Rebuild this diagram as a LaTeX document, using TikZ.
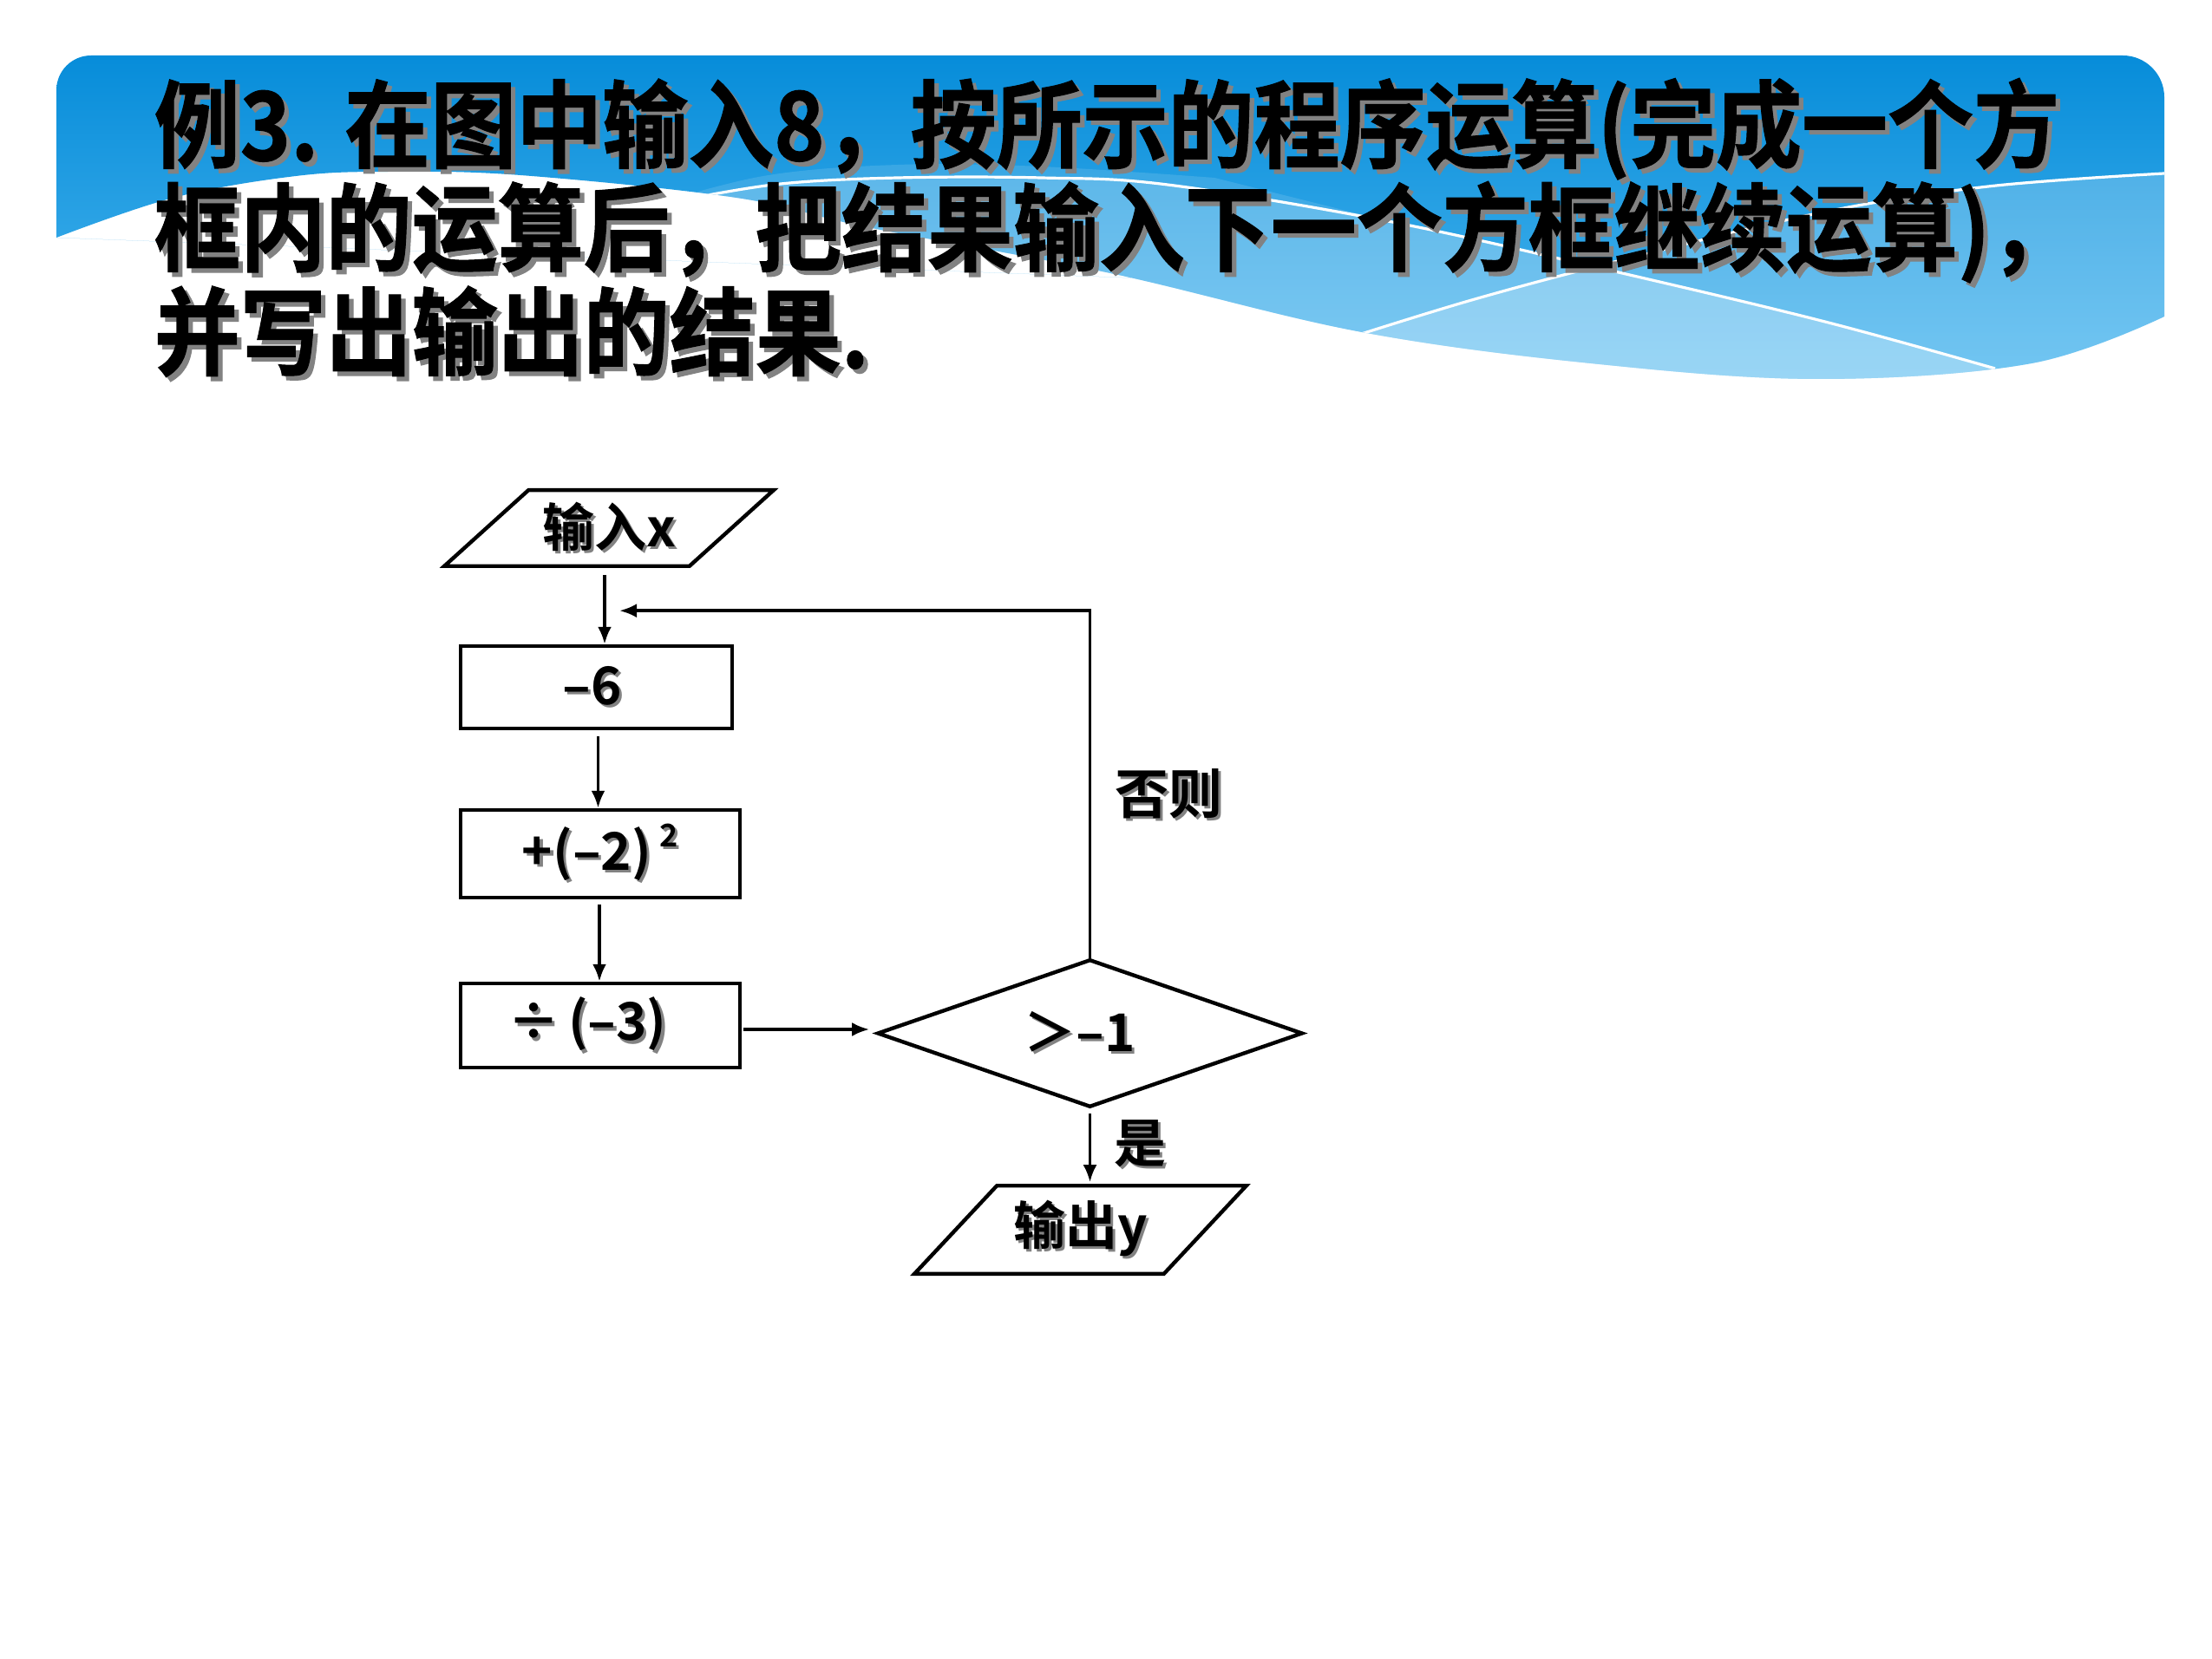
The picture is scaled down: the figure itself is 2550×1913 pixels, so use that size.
\documentclass[tikz,border=0pt]{standalone}
\usepackage{fontspec}
\newfontfamily\cjk{Noto Sans CJK SC}[BoldFont={Noto Sans CJK SC Bold}]
\newfontfamily\cjktitle{Noto Sans CJK SC Bold}[FakeStretch=0.9,FakeBold=1]
\usetikzlibrary{arrows.meta,calc}
\definecolor{shgray}{RGB}{130,130,130}
\definecolor{bandtop}{RGB}{6,140,217}
\definecolor{bandbot}{RGB}{78,184,240}
\newcommand\shd[2][0.8pt]{\makebox[0pt][l]{\hspace*{#1}\raisebox{-#1}{\textcolor{shgray}{#2}}}#2}
\tikzset{
  titletext/.style={font=\cjktitle\fontsize{27.5pt}{30pt}\selectfont, inner sep=0pt, anchor=base west},
  lbl/.style={font=\cjk\bfseries\fontsize{15pt}{18pt}\selectfont, inner sep=0pt},
  procbox/.style={draw, line width=1.1pt, lbl},
  iobox/.style={lbl},
  arr/.style={line width=0.9pt, -{Latex[length=5pt,width=4pt]}},
  wline/.style={white, line width=0.8pt},
}
\begin{document}
\begin{tikzpicture}[x=0.25pt,y=-0.25pt]
\useasboundingbox (0,0) rectangle (2550,1913);
\fill[white] (0,0) rectangle (2550,1913);
% ---------- header band ----------
\begin{scope}
\clip (65,274) -- (65,104) arc[start angle=180,end angle=270,radius=40] -- (2447,64)
  arc[start angle=270,end angle=360,radius=48] -- (2495,365)
  plot[smooth,tension=0.6] coordinates {(2495,365) (2342,419) (2100,437) (1844,420) (1570,383) (1280,315) (1000,262) (849,228) (600,202) (450,198) (341,203) (200,228) (65,274)} -- cycle;
\shade[top color=bandtop, bottom color=bandbot] (60,60) rectangle (2500,450);
% light band above line A
\fill[white, opacity=0.12] plot[smooth,tension=0.6] coordinates {(740,240) (880,203) (1035,190) (1200,192) (1400,205)} -- (1600,255)
  -- plot[smooth,tension=0.6] coordinates {(1600,255) (1346,213) (1200,205) (1035,205) (900,212) (790,230)} -- cycle;
% ribbon below line A
\fill[white, opacity=0.28] plot[smooth,tension=0.6] coordinates {(790,230) (900,212) (1035,205) (1200,205) (1346,213) (1600,255) (1844,309) (2100,370) (2300,425)} -- (2300,600) -- (790,600) -- cycle;
% ribbon below line B
\fill[white, opacity=0.22] plot[smooth,tension=0.6] coordinates {(1560,388) (1700,345) (1869,300) (2100,245) (2292,215) (2495,200)} -- (2600,200) -- (2600,600) -- (1500,600) -- cycle;
% white lines
\draw[wline] plot[smooth,tension=0.6] coordinates {(790,230) (900,212) (1035,205) (1200,205) (1346,213) (1600,255) (1844,309) (2100,370) (2300,425)};
\draw[wline] plot[smooth,tension=0.6] coordinates {(1560,388) (1700,345) (1869,300) (2100,245) (2292,215) (2495,200)};
\end{scope}
% ---------- title ----------
\node[titletext] (t1) at (177,185) {\shd[1.3pt]{例3. 在图中输入8，按所示的程序运算(完成一个方}};
\node[titletext] (t2) at (177,304) {\shd[1.3pt]{框内的运算后，把结果输入下一个方框继续运算)，}};
\node[titletext] (t3) at (177,424) {\shd[1.3pt]{并写出输出的结果.}};
% ---------- flowchart ----------
\node[iobox, minimum width=70.25pt, minimum height=21.5pt] (in) at (702,609) {\shd{输入x}};
\draw[line width=1.1pt] ($(in.north west)+(48.5,0)$) -- ($(in.north east)+(48.5,0)$)
  -- ($(in.south east)+(-48.5,0)$) -- ($(in.south west)+(-48.5,0)$) -- cycle;
\node[procbox, minimum width=78.25pt, minimum height=23.75pt] (b1) at (687.5,792.5) {\shd{–6}\kern2.5pt};
\node[procbox, minimum width=80.5pt, minimum height=25.25pt] (b2) at (692,984.5) {\shd{+(–2)\,\raisebox{0.45em}{\fontsize{9pt}{9pt}\selectfont 2}}};
\node[procbox, minimum width=80.5pt, minimum height=24.25pt] (b3) at (692,1182.5) {\shd{÷\,(–3)}\kern7.5pt};
\node[lbl, minimum width=121.75pt, minimum height=41.75pt] (dec) at (1256.5,1191.5) {\shd{＞–1}\kern6pt};
\draw[line width=1.1pt] (dec.west) -- (dec.north) -- (dec.east) -- (dec.south) -- cycle;
\node[iobox, minimum width=71.5pt, minimum height=25pt] (out) at (1245.5,1418) {\shd{输出y}};
\draw[line width=1.1pt] ($(out.north west)+(47.5,0)$) -- ($(out.north east)+(47.5,0)$)
  -- ($(out.south east)+(-47.5,0)$) -- ($(out.south west)+(-47.5,0)$) -- cycle;
\node[lbl, font=\cjk\bfseries\fontsize{15.5pt}{18pt}\selectfont] (no) at (1347,917) {\shd{否则}};
\node[lbl] (yes) at (1314,1320) {\shd{是}};
% connectors
\coordinate (a1) at ($(in.south)+(-5,10)$);
\draw[arr] (a1) -- (a1 |- b1.north);
\coordinate (a2) at ($(b1.south)+(2,7)$);
\draw[arr] (a2) -- (a2 |- b2.north);
\coordinate (a3) at ($(b2.south)+(-1,6)$);
\draw[arr] (a3) -- (a3 |- b3.north);
\coordinate (a4) at ($(b3.east)+(2,4.5)$);
\draw[arr] (a4) -- ($(a4 -| dec.west)+(-10,0)$);
\coordinate (a5) at ($(dec.south)+(0,8)$);
\draw[arr] (a5) -- ($(a5 |- out.north)+(0,-4)$);
\coordinate (lpc) at ($(dec.north)+(0,-403)$);
\coordinate (lpend) at ($(a1 |- lpc)+(17,0)$);
\draw[arr] (dec.north) -- (lpc) -- (lpend);
\end{tikzpicture}
\end{document}
